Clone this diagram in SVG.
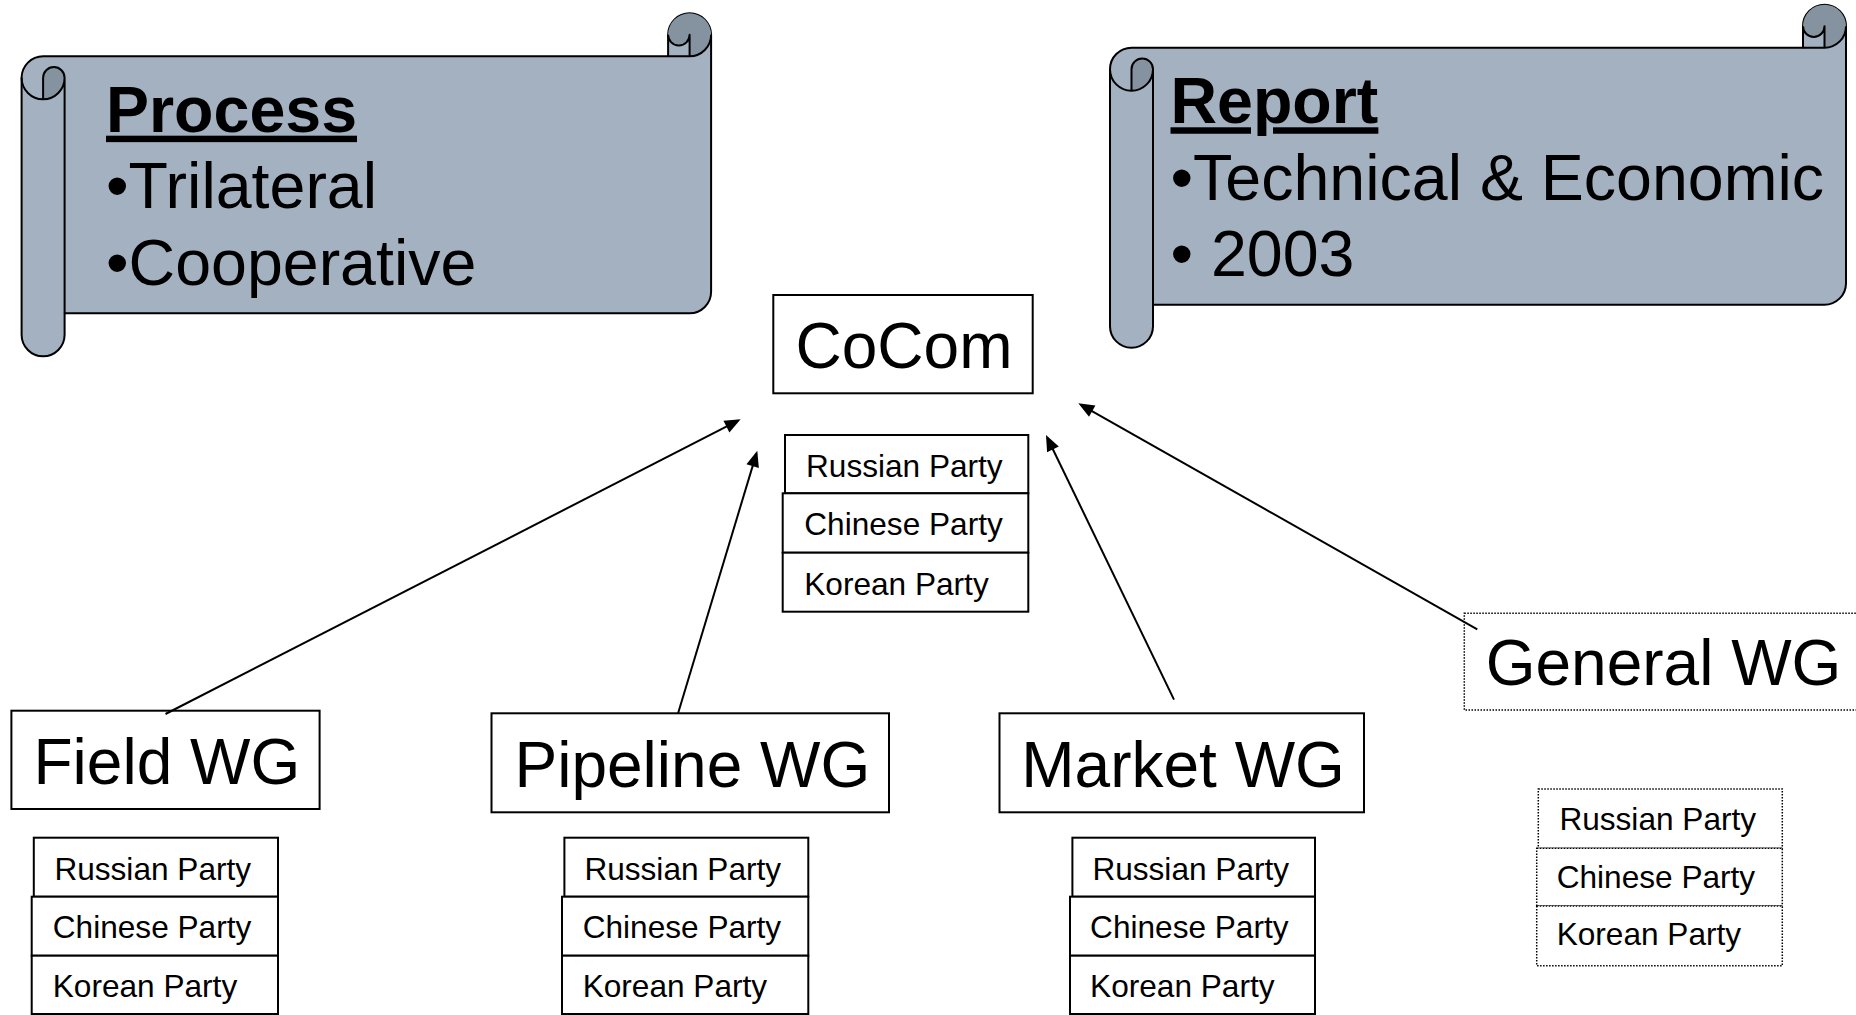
<svg xmlns="http://www.w3.org/2000/svg" width="1856" height="1015" viewBox="0 0 1856 1015">
<defs>
<style>
.scroll{fill:#A3B1C0;stroke:#000;stroke-width:2;stroke-linejoin:round}
.dark{fill:#8592A0;stroke:none}
.ln{fill:none;stroke:#000;stroke-width:2;stroke-linejoin:round}
.st{font-family:"Liberation Sans",Arial,sans-serif;font-size:64.5px;fill:#000}
.hd{font-weight:bold;text-decoration:underline}
.box{fill:#fff;stroke:#000;stroke-width:2}
.dbox{fill:#fff;stroke:#000;stroke-width:1.5;stroke-dasharray:1.5 1.5}
.big{font-family:"Liberation Sans",Arial,sans-serif;font-size:64px;fill:#000}
.pt{font-family:"Liberation Sans",Arial,sans-serif;font-size:31.6px;fill:#000}
.conn{fill:none;stroke:#000;stroke-width:2;marker-end:url(#ah)}
</style>
<marker id="ah" markerUnits="userSpaceOnUse" markerWidth="16" markerHeight="13" refX="13" refY="6.5" orient="auto" overflow="visible">
<path d="M0,0 L16,6.5 L0,13 Z" fill="#000"/>
</marker>
</defs>

<g id="process-scroll" transform="translate(21.6,13.3)">
<path class="scroll" d="M21.5,43 L646.5,43 L646.5,21.5 A21.5,21.5 0 0 1 689.5,21.5 L689.5,278.5 A21.5,21.5 0 0 1 668,300 L43,300 L43,321.5 A21.5,21.5 0 0 1 0,321.5 L0,64.5 A21.5,21.5 0 0 1 21.5,43 Z"/>
<path class="dark" d="M646.5,21.5 A21.5,21.5 0 0 1 689.5,21.5 A21.5,21.5 0 0 1 668,43 L668,21.5 A10.75,10.75 0 0 1 646.5,21.5 Z M21.5,86 L21.5,64.5 A10.75,10.75 0 0 1 43,64.5 A21.5,21.5 0 0 1 21.5,86 Z"/>
<path class="ln" d="M646.5,43 L668,43 A21.5,21.5 0 0 0 689.5,21.5 M668,43 L668,21.5 A10.75,10.75 0 0 1 646.5,21.5 M0,64.5 A21.5,21.5 0 0 0 43,64.5 L43,300 M21.5,86 L21.5,64.5 A10.75,10.75 0 0 1 43,64.5"/>
<text class="st hd" x="84.4" y="118.4">Process</text>
<text class="st" x="84.4" y="194.7">•Trilateral</text>
<text class="st" x="84.4" y="271.7">•Cooperative</text>
</g>

<g id="report-scroll" transform="translate(1110,4.7)">
<path class="scroll" d="M21.5,43 L693,43 L693,21.5 A21.5,21.5 0 0 1 736,21.5 L736,278.5 A21.5,21.5 0 0 1 714.5,300 L43,300 L43,321.5 A21.5,21.5 0 0 1 0,321.5 L0,64.5 A21.5,21.5 0 0 1 21.5,43 Z"/>
<path class="dark" d="M693,21.5 A21.5,21.5 0 0 1 736,21.5 A21.5,21.5 0 0 1 714.5,43 L714.5,21.5 A10.75,10.75 0 0 1 693,21.5 Z M21.5,86 L21.5,64.5 A10.75,10.75 0 0 1 43,64.5 A21.5,21.5 0 0 1 21.5,86 Z"/>
<path class="ln" d="M693,43 L714.5,43 A21.5,21.5 0 0 0 736,21.5 M714.5,43 L714.5,21.5 A10.75,10.75 0 0 1 693,21.5 M0,64.5 A21.5,21.5 0 0 0 43,64.5 L43,300 M21.5,86 L21.5,64.5 A10.75,10.75 0 0 1 43,64.5"/>
<text class="st hd" x="60.5" y="118.6">Report</text>
<text class="st" x="60.5" y="195.3">•Technical &amp; Economic</text>
<text class="st" x="60.5" y="271.3">• 2003</text>
</g>

<g id="cocom">
<rect class="box" x="773.3" y="295" width="259.4" height="98.3"/>
<text class="big" x="795.5" y="368.3">CoCom</text>
</g>
<g id="cocom-parties">
<rect class="box" x="785" y="435" width="243.3" height="58.3"/>
<rect class="box" x="782.7" y="493.3" width="245.6" height="59.4"/>
<rect class="box" x="782.7" y="552.7" width="245.6" height="59"/>
<text class="pt" x="806" y="476.7">Russian Party</text>
<text class="pt" x="804.3" y="535">Chinese Party</text>
<text class="pt" x="804.3" y="595">Korean Party</text>
</g>

<g id="field-wg">
<rect class="box" x="11.4" y="710.7" width="308.2" height="98.3"/>
<text class="big" x="33.5" y="784">Field WG</text>
</g>
<g id="field-parties">
<rect class="box" x="33.8" y="837.7" width="244.2" height="59"/>
<rect class="box" x="31.7" y="896.7" width="246.3" height="59"/>
<rect class="box" x="31.7" y="955.7" width="246.3" height="58.3"/>
<text class="pt" x="54.4" y="880">Russian Party</text>
<text class="pt" x="52.8" y="938.3">Chinese Party</text>
<text class="pt" x="52.8" y="996.7">Korean Party</text>
</g>

<g id="pipeline-wg">
<rect class="box" x="491.5" y="713.3" width="397.5" height="99"/>
<text class="big" x="514.5" y="786.7">Pipeline WG</text>
</g>
<g id="pipeline-parties">
<rect class="box" x="564.4" y="837.7" width="243.9" height="59"/>
<rect class="box" x="562" y="896.7" width="246.3" height="59"/>
<rect class="box" x="562" y="955.7" width="246.3" height="58.3"/>
<text class="pt" x="584.4" y="880">Russian Party</text>
<text class="pt" x="582.7" y="938.3">Chinese Party</text>
<text class="pt" x="582.7" y="996.7">Korean Party</text>
</g>

<g id="market-wg">
<rect class="box" x="999.5" y="713.3" width="364.5" height="99"/>
<text class="big" x="1021.3" y="786.7">Market WG</text>
</g>
<g id="market-parties">
<rect class="box" x="1072.4" y="837.7" width="242.6" height="59"/>
<rect class="box" x="1070" y="896.7" width="245" height="59"/>
<rect class="box" x="1070" y="955.7" width="245" height="58.3"/>
<text class="pt" x="1092.4" y="880">Russian Party</text>
<text class="pt" x="1090.1" y="938.3">Chinese Party</text>
<text class="pt" x="1090.1" y="996.7">Korean Party</text>
</g>

<g id="general-wg">
<rect class="dbox" x="1464.3" y="613.3" width="400" height="96.7"/>
<text class="big" x="1485.7" y="685">General WG</text>
</g>
<g id="general-parties">
<rect class="dbox" x="1538.3" y="789" width="244" height="59.3"/>
<rect class="dbox" x="1536.7" y="848.3" width="245.6" height="57.7"/>
<rect class="dbox" x="1536.7" y="906" width="245.6" height="59.7"/>
<text class="pt" x="1559.4" y="830">Russian Party</text>
<text class="pt" x="1556.7" y="888.3">Chinese Party</text>
<text class="pt" x="1556.7" y="945">Korean Party</text>
</g>

<g id="connectors">
<line class="conn" x1="165.5" y1="714" x2="738" y2="420.7"/>
<line class="conn" x1="678" y1="713.5" x2="756.4" y2="453.6"/>
<line class="conn" x1="1174" y1="699.6" x2="1047.3" y2="437.7"/>
<line class="conn" x1="1477.3" y1="629.3" x2="1080.9" y2="404.8"/>
</g>
</svg>
